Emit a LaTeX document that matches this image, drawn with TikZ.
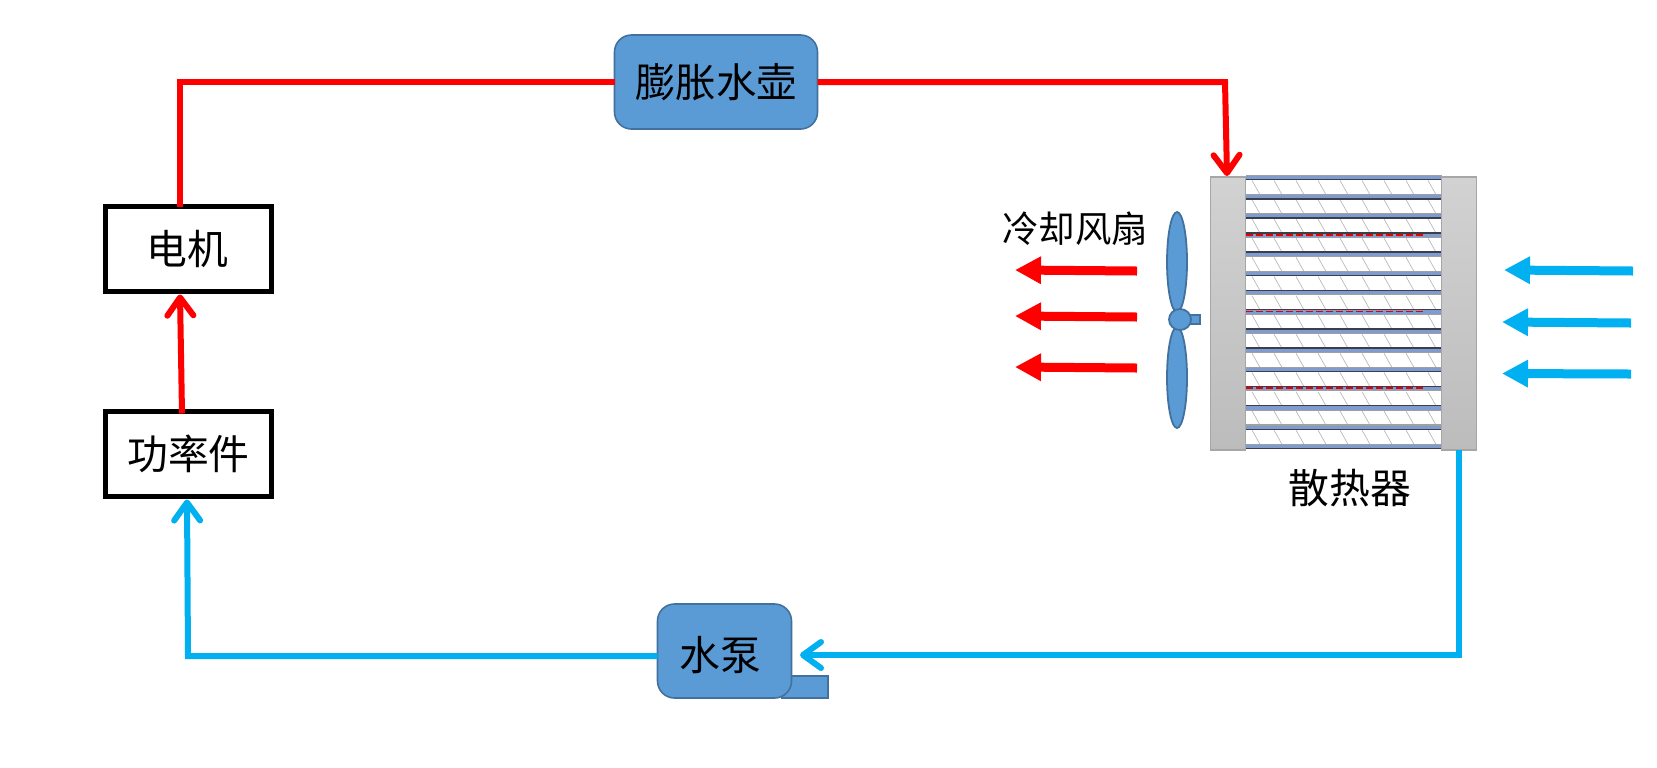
\documentclass[tikz,border=0pt]{standalone}
\usepackage{fontspec}
\setmainfont{Noto Sans CJK SC}
\usetikzlibrary{arrows.meta,shapes.geometric}
\definecolor{pipered}{HTML}{FF0000}
\definecolor{pipeblue}{HTML}{00B0F0}
\definecolor{boxfill}{HTML}{5B9BD5}
\definecolor{boxline}{HTML}{41719C}
\definecolor{tubeblue}{HTML}{7F9BD0}
\definecolor{tubedark}{HTML}{3A3F4A}
\definecolor{tubegray}{HTML}{A0A0A0}
\definecolor{tanktop}{HTML}{D2D2D2}
\definecolor{tankbot}{HTML}{BCBCBC}
\tikzset{
  x=0.5pt,y=-0.5pt,
  bluebox/.style={draw=boxline,fill=boxfill,line width=0.8pt,rounded corners=8.5pt,inner sep=0pt,outer sep=0pt,text=black,font=\fontsize{20.2pt}{22pt}\selectfont},
  blackbox/.style={draw=black,fill=white,line width=2.7pt,inner sep=0pt,outer sep=0pt,minimum width=83pt,minimum height=42.5pt,font=\fontsize{20.4pt}{22pt}\selectfont},
  pipe/.style={line width=3pt,line join=miter},
  barb/.style={-{Straight Barb[length=9pt,width=13pt,round]}},
  fat/.style={line width=4.5pt,-{Triangle[length=13pt,width=13pt]}},
  tank/.style={draw=#1,line width=0.9pt,top color=tanktop,bottom color=tankbot,inner sep=0pt,outer sep=0pt,minimum width=17.5pt,minimum height=136.5pt},
  bladeshape/.style={ellipse,draw=boxline,fill=boxfill,line width=0.9pt,inner sep=0pt,outer sep=0pt},
  label/.style={inner sep=0pt,text=black},
  hatch/.style={draw=black!30,line width=0.3pt},
}
\begin{document}
\begin{tikzpicture}
\useasboundingbox (0,0) rectangle (1657,767);
\fill[white] (0,0) rectangle (1657,767);

% radiator core
\foreach \i in {0,...,13}{
  \foreach \j in {0,...,8}{
    \draw[hatch] ({1252+22*\j},{177.5+19.2*\i+3}) -- ++(9,16);
  }
}
\foreach \i/\s in {0/1,1/1,2/1,3/-1,4/-1,5/1,6/-1,7/-1,8/-1,9/-1,10/1,11/-1,12/-1,13/1,14/1}{
  \draw[tubegray,line width=2.7pt] (1246,{177.5+19.2*\i}) -- (1442,{177.5+19.2*\i});
  \draw[tubeblue,line width=1.6pt] (1246,{177.5+19.2*\i}) -- (1442,{177.5+19.2*\i});
  \draw[tubedark,line width=0.7pt] (1246,{177.5+19.2*\i+2.2*\s}) -- (1442,{177.5+19.2*\i+2.2*\s});
}
\foreach \i in {3,7,11}{
  \draw[red!90!black,line width=0.9pt,dash pattern=on 3.4pt off 1.6pt] (1246,{177.5+19.2*\i-0.5}) -- (1423,{177.5+19.2*\i-0.5});
}

% radiator tanks
\node[tank=black!35] (tankL) at (1228,313.5) {};
\node[tank=black!35] (tankR) at (1459,313.5) {};
\node[label,font=\fontsize{20.4pt}{22pt}\selectfont] (radlabel) at (1350,488) {散热器};

% main boxes
\node[bluebox,minimum width=101.5pt,minimum height=47pt] (tank) at (716,82) {膨胀水壶\hspace{5pt}};
\node[blackbox] (motor) at (188.5,249) {\hspace{-1pt}电机};
\node[blackbox] (power) at (188.5,454) {功率件};
\draw[boxline,fill=boxfill,line width=0.6pt] (782,676) rectangle (828,698);
\node[bluebox,minimum width=67pt,minimum height=47pt] (pump) at (724.5,651) {};
\node[label,font=\fontsize{20.4pt}{22pt}\selectfont] (pumplabel) at (720,655) {水泵};

% fan
\node[bladeshape,minimum width=10pt,minimum height=50pt] (blade1) at (1177,262) {};
\node[bladeshape,minimum width=10pt,minimum height=50.5pt] (blade2) at (1177,377.5) {};
\draw[boxline,fill=boxfill,line width=0.7pt] (1190,315) rectangle (1200,324);
\node[bladeshape,minimum width=11pt,minimum height=10.5pt] (hub) at (1180,319.5) {};
\node[label,font=\fontsize{18.2pt}{20pt}\selectfont] (fanlabel) at (1075,229) {冷却风扇};

% loop connectors
\coordinate (c1) at (180,82);
\coordinate (c2) at (1225,82);
\coordinate (c3) at (1459,655);
\coordinate (c4) at (188,656);
\coordinate (pumpin) at (800,655);
\draw[pipe,pipered] ([xshift=-4.25pt]motor.north) -- (c1) -- (tank.west);
\draw[pipe,pipered,barb] (tank.east) -- (c2) -- ([yshift=0.5pt,xshift=-0.5pt]tankL.north);
\draw[pipe,pipered,barb] ([xshift=-3.25pt,yshift=-1pt]power.north) -- ([xshift=-4.25pt,yshift=-1.5pt]motor.south);
\draw[pipe,pipeblue,barb] (tankR.south) -- (c3) -- (pumpin);
\draw[pipe,pipeblue,barb] (pump.west |- c4) -- (c4) -- ([xshift=-0.75pt,yshift=-1.5pt]power.south);

% air flow
\coordinate (r1a) at (1137,271); \coordinate (r1b) at (1015,270);
\coordinate (r2a) at (1137,317); \coordinate (r2b) at (1015,316);
\coordinate (r3a) at (1137,368); \coordinate (r3b) at (1015,367);
\draw[fat,pipered] (r1a) -- (r1b);
\draw[fat,pipered] (r2a) -- (r2b);
\draw[fat,pipered] (r3a) -- (r3b);
\coordinate (b1a) at (1633,271); \coordinate (b1b) at (1504,270);
\coordinate (b2a) at (1631,323); \coordinate (b2b) at (1502,322);
\coordinate (b3a) at (1631,374); \coordinate (b3b) at (1502,373.5);
\draw[fat,pipeblue] (b1a) -- (b1b);
\draw[fat,pipeblue] (b2a) -- (b2b);
\draw[fat,pipeblue] (b3a) -- (b3b);
\end{tikzpicture}
\end{document}
